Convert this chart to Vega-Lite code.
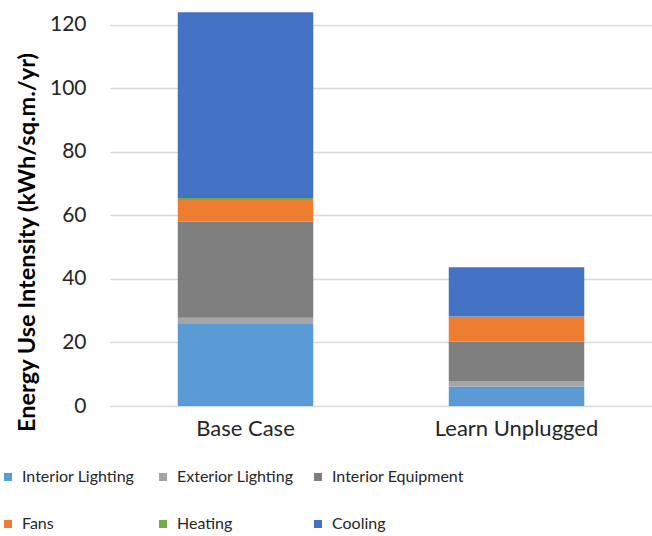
{
  "$schema": "https://vega.github.io/schema/vega-lite/v6.json",
  "autosize": "none",
  "width": 542,
  "height": 394,
  "padding": {"left": 110, "top": 12, "right": 0, "bottom": 130},
  "background": "white",
  "config": {
    "font": "Lato",
    "view": {"stroke": null}
  },
  "datasets": {
    "eui": [
      {"scenario": "Base Case", "enduse": "Interior Lighting", "eui": 25.8},
      {"scenario": "Base Case", "enduse": "Exterior Lighting", "eui": 2.0},
      {"scenario": "Base Case", "enduse": "Interior Equipment", "eui": 30.2},
      {"scenario": "Base Case", "enduse": "Fans", "eui": 6.8},
      {"scenario": "Base Case", "enduse": "Heating", "eui": 0.7},
      {"scenario": "Base Case", "enduse": "Cooling", "eui": 58.4},
      {"scenario": "Learn Unplugged", "enduse": "Interior Lighting", "eui": 6.1},
      {"scenario": "Learn Unplugged", "enduse": "Exterior Lighting", "eui": 1.8},
      {"scenario": "Learn Unplugged", "enduse": "Interior Equipment", "eui": 12.4},
      {"scenario": "Learn Unplugged", "enduse": "Fans", "eui": 7.8},
      {"scenario": "Learn Unplugged", "enduse": "Heating", "eui": 0.1},
      {"scenario": "Learn Unplugged", "enduse": "Cooling", "eui": 15.5}
    ],
    "enduses": [
      {"enduse": "Interior Lighting", "rank": 1},
      {"enduse": "Exterior Lighting", "rank": 2},
      {"enduse": "Interior Equipment", "rank": 3},
      {"enduse": "Fans", "rank": 4},
      {"enduse": "Heating", "rank": 5},
      {"enduse": "Cooling", "rank": 6}
    ]
  },
  "data": {"name": "eui"},
  "transform": [
    {"lookup": "enduse", "from": {"data": {"name": "enduses"}, "key": "enduse", "fields": ["rank"]}}
  ],
  "mark": {"type": "bar"},
  "encoding": {
    "x": {
      "field": "scenario",
      "type": "nominal",
      "scale": {"paddingInner": 0.5, "paddingOuter": 0.25},
      "axis": {
        "title": null,
        "labelAngle": 0,
        "labelFontSize": 22,
        "labelColor": "#262626",
        "labelPadding": 12,
        "ticks": false,
        "domain": false
      }
    },
    "y": {
      "field": "eui",
      "type": "quantitative",
      "stack": "zero",
      "scale": {"domain": [0, 124], "nice": false},
      "axis": {
        "values": [0, 20, 40, 60, 80, 100, 120],
        "title": "Energy Use Intensity (kWh/sq.m./yr)",
        "titleFontSize": 23.5,
        "titleFontWeight": "bold",
        "titleColor": "#000000",
        "titleAngle": 270,
        "titleX": -83,
        "titleY": 230,
        "titleAlign": "center",
        "titleBaseline": "middle",
        "titleLimit": 500,
        "labelFontSize": 21,
        "labelColor": "#262626",
        "labelPadding": 24,
        "ticks": false,
        "domain": false,
        "gridColor": "#d9d9d9",
        "gridWidth": 1.5
      }
    },
    "order": {"field": "rank", "type": "quantitative", "sort": "ascending"},
    "color": {
      "field": "enduse",
      "type": "nominal",
      "sort": ["Interior Lighting", "Exterior Lighting", "Interior Equipment", "Fans", "Heating", "Cooling"],
      "scale": {
        "domain": ["Interior Lighting", "Exterior Lighting", "Interior Equipment", "Fans", "Heating", "Cooling"],
        "range": ["#5B9BD5", "#A5A5A5", "#7F7F7F", "#ED7D31", "#70AD47", "#4472C4"]
      },
      "legend": {
        "title": null,
        "orient": "none",
        "direction": "horizontal",
        "legendX": -110,
        "legendY": 457,
        "columns": 3,
        "gridAlign": "all",
        "columnPadding": 1,
        "rowPadding": 31,
        "symbolType": "square",
        "symbolSize": 64,
        "symbolStrokeWidth": 0,
        "labelFontSize": 16,
        "labelColor": "#262626",
        "labelOffset": 6
      }
    }
  }
}
